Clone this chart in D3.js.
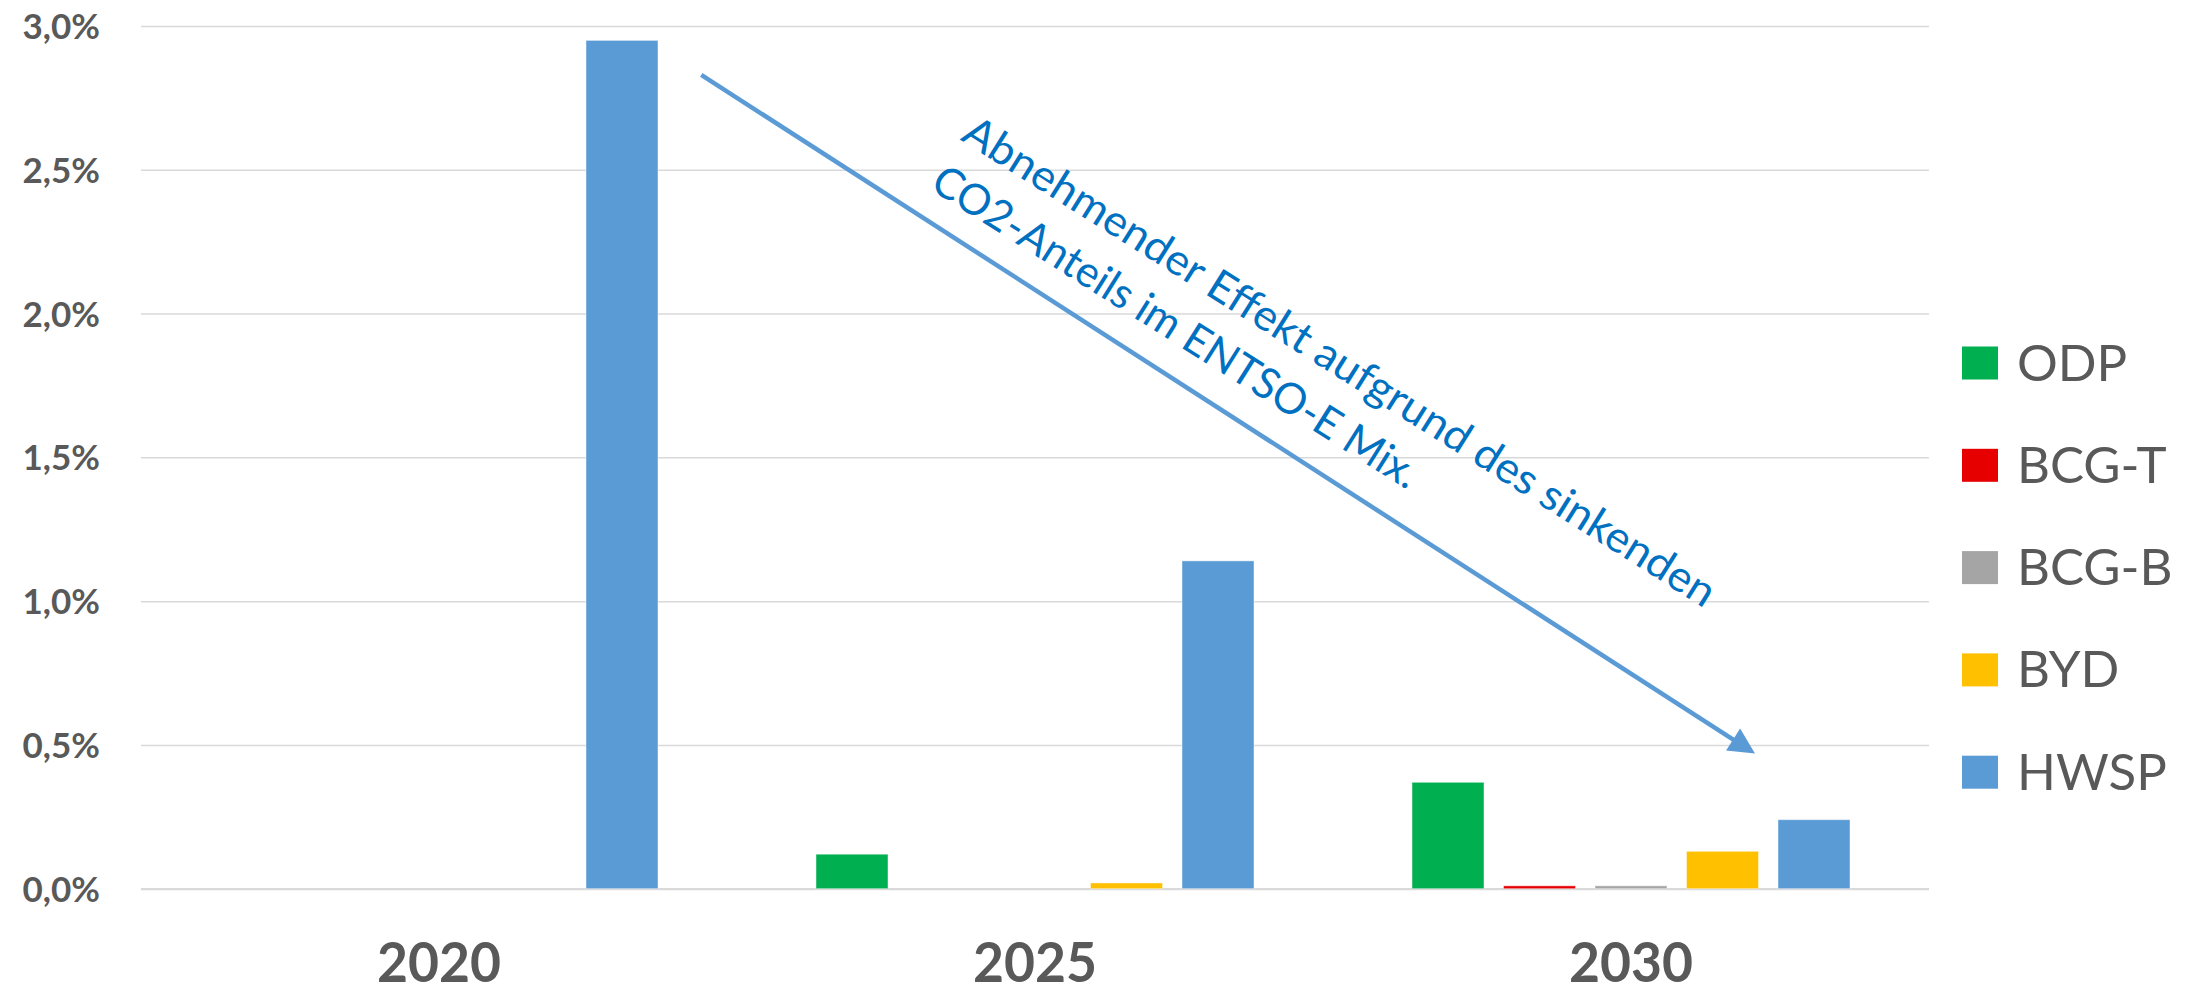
<!DOCTYPE html>
<html>
<head>
<meta charset="utf-8">
<script src="https://cdn.jsdelivr.net/npm/d3@7"></script>
<style>
  html, body { margin: 0; padding: 0; background: #ffffff; }
  svg { display: block; }
</style>
</head>
<body>
<script>
// Categories and series
const years = ["2020", "2025", "2030"];
const seriesNames = ["ODP", "BCG-T", "BCG-B", "BYD", "HWSP"];
const seriesColors = ["#00B050", "#E60000", "#A5A5A5", "#FFC000", "#5B9BD5"];

// Values per series (share, one entry per year)
const odp  = [0, 0.0012, 0.0037];
const bcgT = [0, 0, 0.0001];
const bcgB = [0, 0, 0.0001];
const byd  = [0, 0.0002, 0.0013];
const hwsp = [0.0295, 0.0114, 0.0024];

// Y axis ticks
const yTicks = [0, 0.005, 0.01, 0.015, 0.02, 0.025, 0.03];

// Trend annotation (position in category units, value on y scale)
const trendFrom = { pos: 0.94, value: 0.0283 };
const trendTo   = { pos: 2.708, value: 0.0047 };
const trendLines = ["Abnehmender Effekt aufgrund des sinkenden", "CO2-Anteils im ENTSO-E Mix."];

const seriesValues = [odp, bcgT, bcgB, byd, hwsp];

const W = 2195, H = 998;
const plot = { left: 141, right: 1929, top: 26, bottom: 888.7 };

const svg = d3.select("body").append("svg")
  .attr("width", W).attr("height", H);

const locale = d3.formatLocale({ decimal: ",", thousands: ".", grouping: [3], currency: ["", " €"] });
const pct = locale.format(".1%");

const y = d3.scaleLinear().domain([0, 0.03]).range([plot.bottom, plot.top]);
const x0 = d3.scaleBand().domain(years).range([plot.left, plot.right]).padding(0);
const groupWidth = 438;
const x1 = d3.scaleBand().domain(seriesNames)
  .range([x0.bandwidth() / 2 - groupWidth / 2, x0.bandwidth() / 2 + groupWidth / 2])
  .paddingInner(19.5 / 91.5).paddingOuter(0);
const color = d3.scaleOrdinal().domain(seriesNames).range(seriesColors);
const xPos = d3.scaleLinear().domain([0, years.length]).range([plot.left, plot.right]);

// Gridlines + y labels
const yAxis = svg.append("g")
  .attr("transform", `translate(${plot.left},0)`)
  .call(d3.axisLeft(y).tickValues(yTicks).tickFormat(pct)
    .tickSize(-(plot.right - plot.left)).tickPadding(41));
yAxis.select(".domain").remove();
yAxis.selectAll(".tick line")
  .attr("stroke", "#D9D9D9")
  .attr("stroke-width", d => d === 0 ? 2.2 : 1.5);
yAxis.selectAll(".tick text")
  .attr("fill", "#595959")
  .attr("font-family", "Lato, 'Open Sans', sans-serif")
  .attr("font-weight", "bold")
  .attr("font-size", 35)
  .attr("dy", "0.36em");

// Bars
const rows = years.map((yr, i) => ({ year: yr, values: seriesNames.map((s, j) => ({ key: s, value: seriesValues[j][i] })) }));

svg.append("g").selectAll("g")
  .data(rows).join("g")
  .attr("transform", d => `translate(${x0(d.year)},0)`)
  .selectAll("rect")
  .data(d => d.values.filter(v => v.value > 0)).join("rect")
  .attr("x", d => x1(d.key))
  .attr("width", x1.bandwidth())
  .attr("y", d => y(d.value))
  .attr("height", d => y(0) - y(d.value))
  .attr("fill", d => color(d.key))
  .attr("stroke", "rgba(255,255,255,0.45)")
  .attr("stroke-width", 1);

// X axis labels
const xAxis = svg.append("g")
  .attr("transform", `translate(0,${plot.bottom})`)
  .call(d3.axisBottom(x0).tickSize(0).tickPadding(0));
xAxis.select(".domain").remove();
xAxis.selectAll(".tick text")
  .attr("fill", "#595959")
  .attr("font-family", "Lato, 'Open Sans', sans-serif")
  .attr("font-weight", "bold")
  .attr("font-size", 55)
  .attr("y", 93)
  .attr("dy", 0)
  .attr("textLength", 124)
  .attr("lengthAdjust", "spacingAndGlyphs");

// Legend
const legend = svg.append("g").selectAll("g")
  .data(seriesNames).join("g")
  .attr("transform", (d, i) => `translate(1962,${363 + i * 102.3})`);
legend.append("rect")
  .attr("x", 0).attr("y", -16.5)
  .attr("width", 36).attr("height", 33)
  .attr("fill", d => color(d));
legend.append("text")
  .attr("x", 55).attr("y", 17.5)
  .attr("fill", "#595959")
  .attr("font-family", "Lato, 'Open Sans', sans-serif")
  .attr("font-size", 51)
  .text(d => d);

// Trend arrow
const ax1 = xPos(trendFrom.pos), ay1 = y(trendFrom.value);
const ax2 = xPos(trendTo.pos), ay2 = y(trendTo.value);
const ang = Math.atan2(ay2 - ay1, ax2 - ax1);
const headLen = 26, headHalf = 13;
const bx = ax2 - headLen * Math.cos(ang), by = ay2 - headLen * Math.sin(ang);
const arrowColor = "#5B9BD5";
svg.append("line")
  .attr("x1", ax1).attr("y1", ay1)
  .attr("x2", bx + 2 * Math.cos(ang)).attr("y2", by + 2 * Math.sin(ang))
  .attr("stroke", arrowColor).attr("stroke-width", 4.5);
svg.append("path")
  .attr("d", d3.line()([
    [ax2, ay2],
    [bx - headHalf * Math.sin(ang), by + headHalf * Math.cos(ang)],
    [bx + headHalf * Math.sin(ang), by - headHalf * Math.cos(ang)]
  ]) + "Z")
  .attr("fill", arrowColor);

// Annotation text along the arrow
const note = svg.append("g")
  .attr("transform", `translate(${ax1},${ay1}) rotate(32.2)`);
const noteLengths = [880, 566];
const noteOffsets = [-83, -25];
note.selectAll("text")
  .data(trendLines).join("text")
  .attr("x", 253)
  .attr("y", (d, i) => noteOffsets[i])
  .attr("fill", "#0070C0")
  .attr("font-family", "Lato, 'Open Sans', sans-serif")
  .attr("font-size", 43)
  .attr("textLength", (d, i) => noteLengths[i])
  .attr("lengthAdjust", "spacingAndGlyphs")
  .text(d => d);
</script>
</body>
</html>
